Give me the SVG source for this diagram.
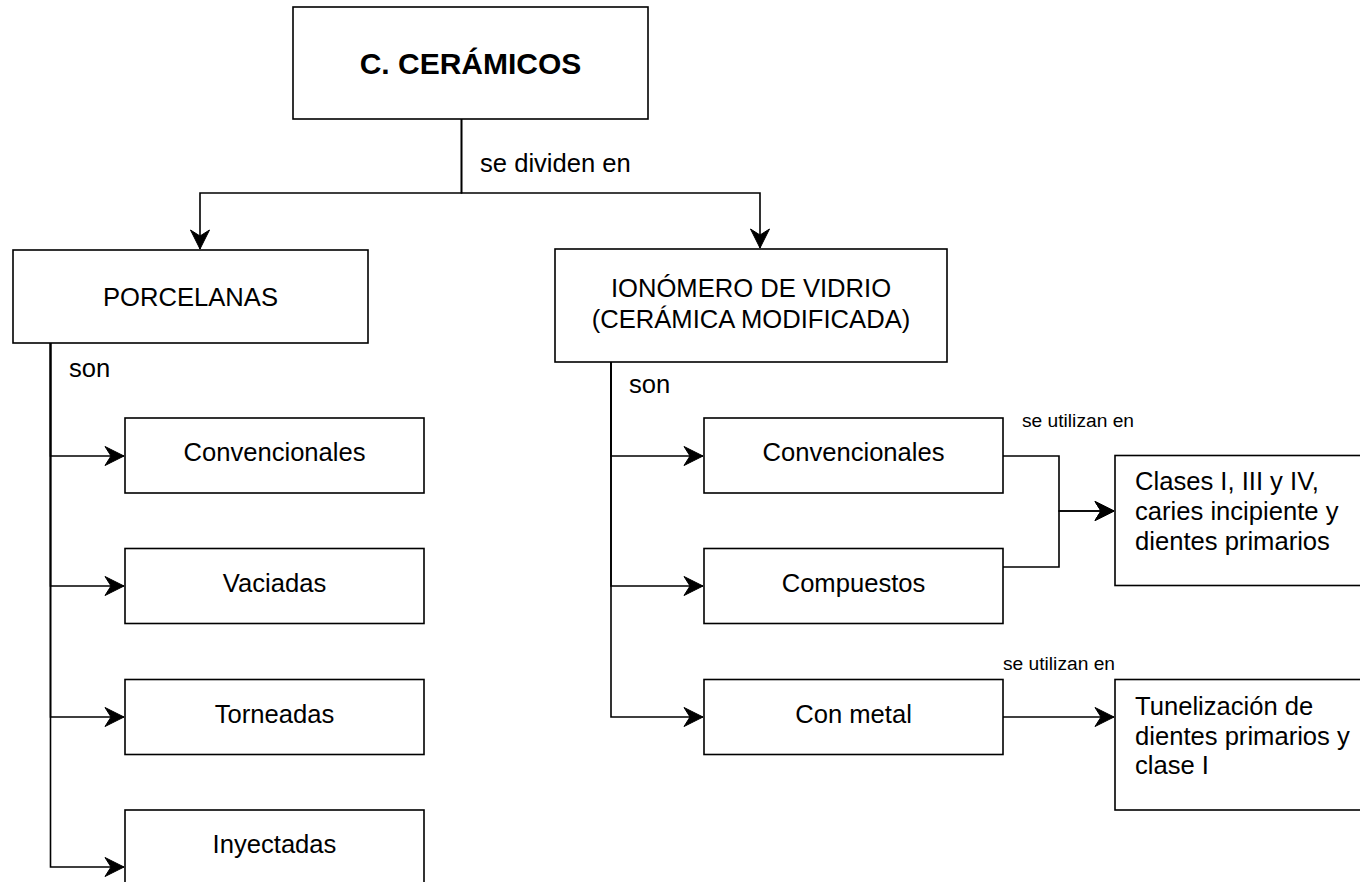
<svg xmlns="http://www.w3.org/2000/svg" width="1360" height="882" viewBox="0 0 1360 882">
<style>
.box{fill:#ffffff;stroke:#000000;stroke-width:1.6}
.t{font-family:"Liberation Sans",Arial,Helvetica,sans-serif;font-size:25.6px;fill:#000000}
.c{text-anchor:middle}
.b{font-weight:bold;font-size:30px}
.s{font-size:19.2px}
.e{fill:none;stroke:#000000;stroke-width:1.6}
.a{marker-end:url(#arr)}
</style>
<defs>
<marker id="arr" markerUnits="userSpaceOnUse" markerWidth="22" markerHeight="22" viewBox="0 0 22 22" refX="20" refY="10" orient="auto">
<path d="M1,0.5 L20,10 L1,19.5 L7,10 Z" fill="#000000" stroke="#000000" stroke-width="1"/>
</marker>
</defs>
<rect width="1360" height="882" fill="#ffffff"/>

<g id="connectors">
<path class="e a" d="M461.5,119 V193 H200 V249"/>
<path class="e a" d="M461.5,119 V193 H760 V248"/>
<path class="e a" d="M50.5,343 V456 H124"/>
<path class="e a" d="M50.5,343 V586 H124"/>
<path class="e a" d="M50.5,343 V717 H124"/>
<path class="e a" d="M50.5,343 V867 H124"/>
<path class="e a" d="M611,362 V456 H703"/>
<path class="e a" d="M611,362 V586 H703"/>
<path class="e a" d="M611,362 V717 H703"/>
<path class="e a" d="M1003,456 H1059 V511 H1114"/>
<path class="e a" d="M1003,567 H1059 V511 H1114"/>
<path class="e a" d="M1003,717 H1114"/>
<text class="t" x="480" y="172">se dividen en</text>
<text class="t" x="69" y="377">son</text>
<text class="t" x="629" y="393">son</text>
<text class="t s" x="1022" y="427">se utilizan en</text>
<text class="t s" x="1003" y="670">se utilizan en</text>
</g>

<g id="ceramicos">
<rect class="box" x="293" y="7" width="355" height="112"/>
<text class="t c b" x="470.5" y="74">C. CERÁMICOS</text>
</g>
<g id="porcelanas">
<rect class="box" x="13" y="250" width="355" height="93"/>
<text class="t c" x="190.5" y="305.5">PORCELANAS</text>
</g>
<g id="ionomero">
<rect class="box" x="555" y="249" width="392" height="113"/>
<text class="t c" x="751" y="296.5">IONÓMERO DE VIDRIO</text>
<text class="t c" x="751" y="328">(CERÁMICA MODIFICADA)</text>
</g>
<g id="p-convencionales">
<rect class="box" x="125" y="418" width="299" height="75"/>
<text class="t c" x="274.5" y="460.7">Convencionales</text>
</g>
<g id="p-vaciadas">
<rect class="box" x="125" y="548.5" width="299" height="75"/>
<text class="t c" x="274.5" y="591.5">Vaciadas</text>
</g>
<g id="p-torneadas">
<rect class="box" x="125" y="679.5" width="299" height="75"/>
<text class="t c" x="274.5" y="722.5">Torneadas</text>
</g>
<g id="p-inyectadas">
<rect class="box" x="125" y="810" width="299" height="75"/>
<text class="t c" x="274.5" y="852.5">Inyectadas</text>
</g>
<g id="i-convencionales">
<rect class="box" x="704" y="418" width="299" height="75"/>
<text class="t c" x="853.5" y="460.7">Convencionales</text>
</g>
<g id="i-compuestos">
<rect class="box" x="704" y="548.5" width="299" height="75"/>
<text class="t c" x="853.5" y="591.5">Compuestos</text>
</g>
<g id="i-conmetal">
<rect class="box" x="704" y="679.5" width="299" height="75"/>
<text class="t c" x="853.5" y="722.5">Con metal</text>
</g>
<g id="clases">
<rect class="box" x="1115" y="455.5" width="260" height="130"/>
<text class="t" x="1135" y="490">Clases I, III y IV,</text>
<text class="t" x="1135" y="520">caries incipiente y</text>
<text class="t" x="1135" y="550">dientes primarios</text>
</g>
<g id="tunelizacion">
<rect class="box" x="1115" y="679.5" width="260" height="130.5"/>
<text class="t" x="1135" y="715">Tunelización de</text>
<text class="t" x="1135" y="744.5">dientes primarios y</text>
<text class="t" x="1135" y="774">clase I</text>
</g>
</svg>
